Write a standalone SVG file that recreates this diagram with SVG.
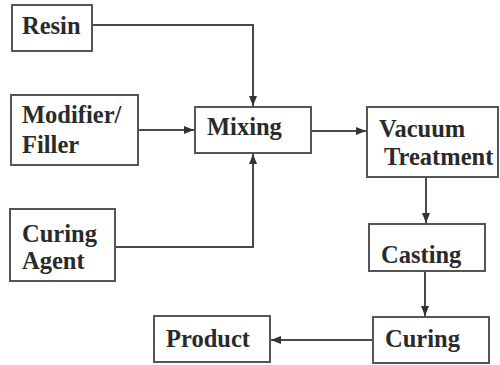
<svg xmlns="http://www.w3.org/2000/svg" width="500" height="365" viewBox="0 0 500 365">
<defs>
<style>
.box{fill:#fff;stroke:#555;stroke-width:2}
.t{font-family:"Liberation Serif","Times New Roman",serif;font-weight:bold;font-size:24.5px;fill:#2a2a2a}
.c{fill:none;stroke:#4a4a4a;stroke-width:2}
</style>
<marker id="ah" viewBox="0 0 10 10" refX="10" refY="5" markerWidth="5" markerHeight="5" orient="auto" markerUnits="strokeWidth">
<path d="M0,1 L10,5 L0,9 z" fill="#333"/>
</marker>
</defs>
<rect width="500" height="365" fill="#fff"/>
<g id="connectors">
<polyline class="c" points="92,25 253,25 253,106" marker-end="url(#ah)"/>
<line class="c" x1="138" y1="130" x2="194" y2="130" marker-end="url(#ah)"/>
<polyline class="c" points="115,247 253,247 253,154" marker-end="url(#ah)"/>
<line class="c" x1="311" y1="131" x2="366" y2="131" marker-end="url(#ah)"/>
<line class="c" x1="426" y1="177" x2="426" y2="223" marker-end="url(#ah)"/>
<line class="c" x1="425" y1="271" x2="425" y2="316" marker-end="url(#ah)"/>
<line class="c" x1="373" y1="340" x2="271" y2="340" marker-end="url(#ah)"/>
</g>
<g id="resin"><rect class="box" x="12" y="5" width="80" height="46"/><text class="t" x="22" y="34">Resin</text></g>
<g id="modifier"><rect class="box" x="11" y="95" width="127" height="70"/><text class="t" x="22" y="123">Modifier/</text><text class="t" x="22" y="153">Filler</text></g>
<g id="curing-agent"><rect class="box" x="10" y="209" width="105" height="72"/><text class="t" x="22" y="242">Curing</text><text class="t" x="22" y="269">Agent</text></g>
<g id="mixing"><rect class="box" x="195" y="107" width="116" height="46"/><text class="t" x="207" y="135">Mixing</text></g>
<g id="vacuum"><rect class="box" x="367" y="107" width="131" height="70"/><text class="t" x="379" y="137">Vacuum</text><text class="t" x="384" y="165">Treatment</text></g>
<g id="casting"><rect class="box" x="369" y="224" width="116" height="47"/><text class="t" x="381" y="263">Casting</text></g>
<g id="curing"><rect class="box" x="373" y="317" width="116" height="46"/><text class="t" x="385" y="347">Curing</text></g>
<g id="product"><rect class="box" x="154" y="316" width="116" height="46"/><text class="t" x="166" y="347">Product</text></g>
</svg>
